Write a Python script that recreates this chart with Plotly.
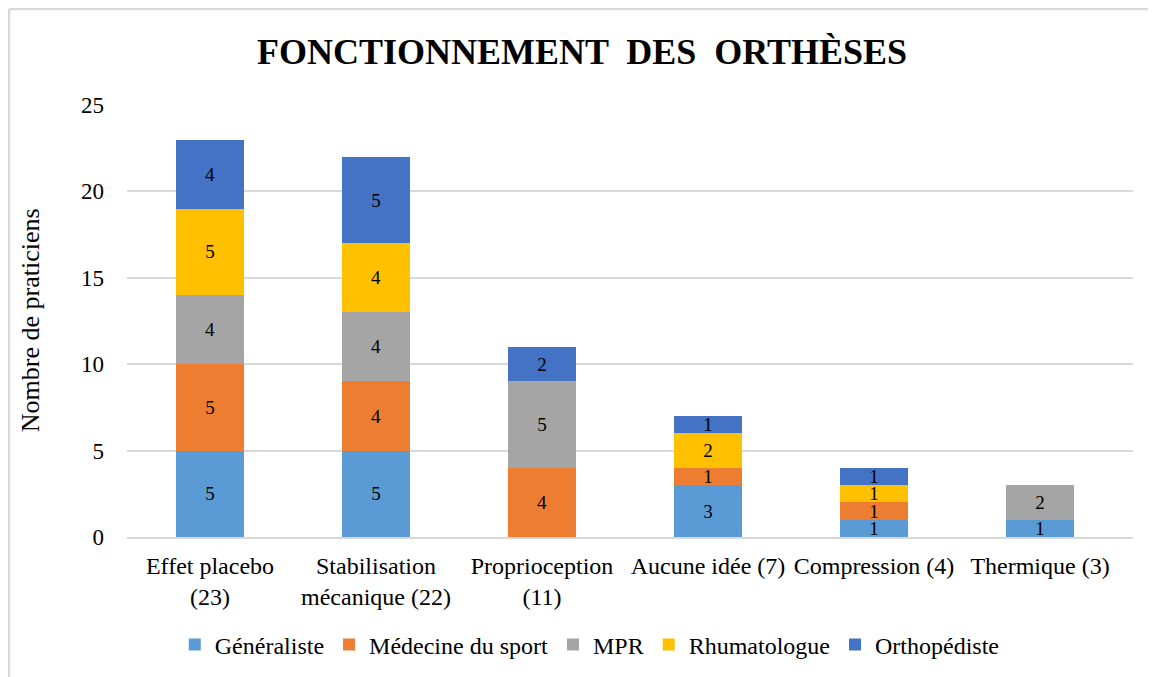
import plotly.graph_objects as go

categories = ["Effet placebo<br>(23)", "Stabilisation<br>mécanique (22)", "Proprioception<br>(11)",
              "Aucune idée (7)", "Compression (4)", "Thermique (3)"]

generaliste = [5, 5, 0, 3, 1, 1]
medecine_sport = [5, 4, 4, 1, 1, 0]
mpr = [4, 4, 5, 0, 0, 2]
rhumatologue = [5, 4, 0, 2, 1, 0]
orthopediste = [4, 5, 2, 1, 1, 0]

series = [
    ("Généraliste", generaliste, "#5B9BD5"),
    ("Médecine du sport", medecine_sport, "#ED7D31"),
    ("MPR", mpr, "#A5A5A5"),
    ("Rhumatologue", rhumatologue, "#FFC000"),
    ("Orthopédiste", orthopediste, "#4472C4"),
]

FONT = "Liberation Serif"

fig = go.Figure()
for name, vals, color in series:
    fig.add_trace(go.Bar(
        x=categories, y=vals, name=name,
        marker=dict(color=color, line=dict(width=0)),
        text=[str(v) if v else "" for v in vals],
        textposition="inside", insidetextanchor="middle", textangle=0,
        constraintext="none",
        textfont=dict(family=FONT, size=19, color="black"),
        width=0.41,
    ))

# page has an 8px body margin, so the figure is drawn 8px smaller
fig.update_layout(
    barmode="stack",
    width=1148, height=669,
    margin=dict(l=119, r=23, t=97, b=140),
    paper_bgcolor="white", plot_bgcolor="white",
    font=dict(family=FONT, size=23, color="black"),
    title=dict(text="<b>FONCTIONNEMENT  DES  ORTHÈSES</b>", x=0.5, xanchor="center",
               y=0.935, yanchor="middle", font=dict(family=FONT, size=36, color="black")),
    legend=dict(orientation="h", x=0.46, xanchor="center", yref="container", y=0.048,
                yanchor="middle", font=dict(family=FONT, size=24), traceorder="normal"),
    showlegend=True,
)
fig.update_yaxes(range=[0, 25], dtick=5, showgrid=True, gridcolor="#D9D9D9", gridwidth=1.5,
                 zeroline=False, showline=False, ticks="", ticklen=0, automargin=False,
                 ticklabelstandoff=22, tickfont=dict(family=FONT, size=23))
fig.update_xaxes(range=[-0.5, 5.56], showline=True, linecolor="#D9D9D9", linewidth=1.5, ticks="",
                 automargin=False, ticklabelstandoff=6, tickfont=dict(family=FONT, size=24))

fig.add_annotation(text="Nombre de praticiens", xref="paper", yref="paper", x=-0.0964, y=0.502,
                   xanchor="center", yanchor="middle", textangle=-90, showarrow=False,
                   font=dict(family=FONT, size=26, color="black"))

# chart frame
fig.add_shape(type="line", xref="paper", yref="paper", x0=-0.1173, x1=1.2, y0=1.222, y1=1.222,
              line=dict(color="#D9D9D9", width=2.5))
fig.add_shape(type="line", xref="paper", yref="paper", x0=-0.1173, x1=-0.1173, y0=1.222, y1=-0.5,
              line=dict(color="#D9D9D9", width=2.5))

fig.write_html("out.html")
